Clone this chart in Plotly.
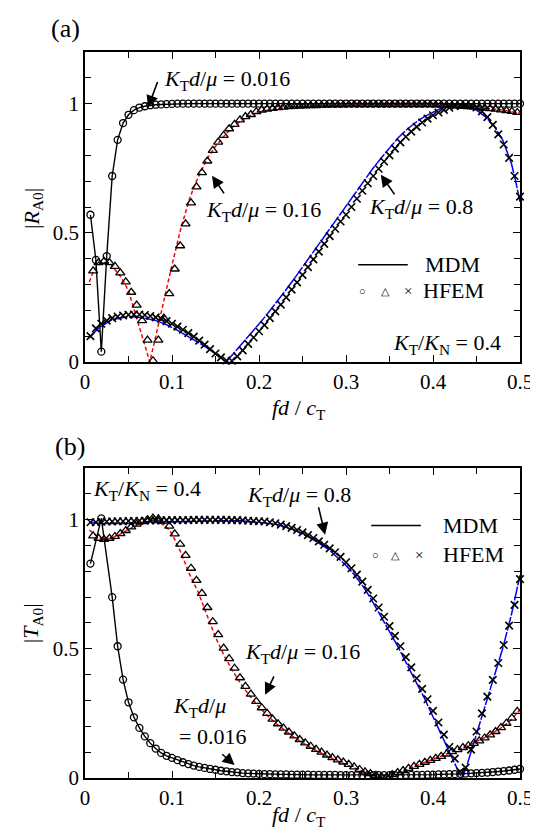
import plotly.graph_objects as go

# ---------------- data ----------------
# HFEM sampling frequencies (fd/cT)
X_CIRC = [round(0.00625 * k, 5) for k in range(1, 81)]
X_CROSS = [round(0.00625 * k, 5) for k in range(1, 81)]
X_TRI = [round(0.009375 + 0.00625 * j, 6) for j in range(79)]

# (a) |R_A0|
a_circ_016 = [0.57, 0.395, 0.04, 0.41, 0.72, 0.86, 0.925, 0.957, 0.975, 0.985,
              0.99, 0.994, 0.996, 0.997, 0.998, 0.999, 1.0, 1.0, 1.0, 1.0,
              1.0, 1.0, 1.0, 1.0, 1.0, 1.0, 1.0, 1.0, 1.0, 1.0,
              1.0, 1.0, 1.0, 1.0, 1.0, 1.0, 1.0, 1.0, 1.0, 1.0,
              1.0, 1.0, 1.0, 1.0, 1.0, 1.0, 1.0, 1.0, 1.0, 1.0,
              1.0, 1.0, 1.0, 1.0, 1.0, 1.0, 1.0, 1.0, 1.0, 1.0,
              1.0, 1.0, 1.0, 1.0, 1.0, 1.0, 1.0, 1.0, 1.0, 1.0,
              1.0, 1.0, 1.0, 1.0, 1.0, 1.0, 1.0, 1.0, 1.0, 1.0]
a_tri_016 = [0.353, 0.385, 0.39, 0.385, 0.37, 0.345, 0.31, 0.27, 0.22, 0.16,
             0.085, 0.005, 0.085, 0.17, 0.265, 0.36, 0.45, 0.535, 0.616, 0.678,
             0.733, 0.778, 0.819, 0.851, 0.877, 0.903, 0.92, 0.937, 0.95, 0.958,
             0.969, 0.975, 0.979, 0.982, 0.985, 0.987, 0.989, 0.99, 0.991, 0.992,
             0.993, 0.993, 0.994, 0.994, 0.995, 0.995, 0.995, 0.996, 0.996, 0.996,
             0.996, 0.996, 0.996, 0.996, 0.996, 0.996, 0.996, 0.996, 0.996, 0.996,
             0.996, 0.996, 0.996, 0.995, 0.995, 0.994, 0.993, 0.992, 0.99, 0.989,
             0.987, 0.985, 0.983, 0.981, 0.979, 0.976, 0.973, 0.97, 0.966]
a_cross_08 = [0.10, 0.13, 0.148, 0.16, 0.17, 0.176, 0.18, 0.183, 0.184, 0.184,
              0.182, 0.178, 0.173, 0.167, 0.158, 0.148, 0.137, 0.125, 0.112, 0.098,
              0.083, 0.067, 0.05, 0.033, 0.018, 0.006, 0.005, 0.022, 0.045, 0.07,
              0.095, 0.119, 0.143, 0.17, 0.196, 0.222, 0.25, 0.28, 0.308, 0.337,
              0.367, 0.397, 0.427, 0.457, 0.487, 0.516, 0.544, 0.57, 0.60, 0.632,
              0.663, 0.692, 0.72, 0.748, 0.776, 0.80, 0.826, 0.85, 0.872, 0.892,
              0.91, 0.927, 0.942, 0.955, 0.966, 0.976, 0.984, 0.99, 0.994, 0.996,
              0.993, 0.985, 0.97, 0.948, 0.918, 0.881, 0.842, 0.79, 0.72, 0.64]

a_red_x = [0.005, 0.01, 0.015, 0.02, 0.025, 0.03, 0.035, 0.04, 0.045, 0.05,
           0.055, 0.06, 0.065, 0.07, 0.0745, 0.08, 0.09, 0.1, 0.11, 0.115,
           0.12, 0.125, 0.13, 0.14, 0.15, 0.16, 0.17, 0.18, 0.19, 0.2,
           0.22, 0.25, 0.3, 0.35, 0.4, 0.42, 0.44, 0.46, 0.48, 0.5]
a_red_y = [0.31, 0.355, 0.375, 0.385, 0.385, 0.378, 0.355, 0.335, 0.308, 0.275,
           0.22, 0.163, 0.107, 0.05, 0.0, 0.08, 0.23, 0.375, 0.515, 0.575,
           0.63, 0.675, 0.715, 0.785, 0.835, 0.875, 0.91, 0.935, 0.955, 0.968,
           0.98, 0.99, 0.995, 0.996, 0.996, 0.995, 0.99, 0.984, 0.976, 0.963]
a_blue_x = [0.005, 0.015, 0.03, 0.045, 0.055, 0.065, 0.08, 0.092, 0.105, 0.115,
            0.128, 0.139, 0.15, 0.162, 0.17, 0.18, 0.19, 0.2, 0.21, 0.22,
            0.23, 0.24, 0.25, 0.26, 0.27, 0.28, 0.29, 0.3, 0.31, 0.32,
            0.33, 0.34, 0.35, 0.36, 0.37, 0.38, 0.39, 0.4, 0.41, 0.42,
            0.43, 0.44, 0.45, 0.46, 0.47, 0.48, 0.49, 0.495, 0.5]
a_blue_y = [0.093, 0.13, 0.162, 0.173, 0.175, 0.172, 0.162, 0.147, 0.125, 0.106,
            0.082, 0.058, 0.032, 0.0, 0.03, 0.068, 0.107, 0.147, 0.188, 0.23,
            0.275, 0.32, 0.367, 0.415, 0.463, 0.51, 0.557, 0.603, 0.65, 0.70,
            0.745, 0.788, 0.83, 0.868, 0.90, 0.927, 0.95, 0.968, 0.983, 0.993,
            0.998, 0.99, 0.975, 0.95, 0.915, 0.86, 0.77, 0.70, 0.62]

# (b) |T_A0|
b_circ_016 = [0.83, None, 1.005, None, 0.70, 0.51, 0.381, 0.293, 0.235, 0.194,
              0.161, 0.135, 0.114, 0.097, 0.086, 0.078, 0.069, 0.061, 0.054, 0.048,
              0.043, 0.039, 0.035, 0.032, 0.028, 0.026, 0.023, 0.022, 0.019, 0.018,
              0.017, 0.016, 0.015, 0.015, 0.014, 0.014, 0.014, 0.013, 0.013, 0.013,
              0.013, 0.012, 0.012, 0.012, 0.012, 0.012, 0.011, 0.011, 0.011, 0.011,
              0.011, 0.011, 0.011, 0.011, 0.011, 0.011, 0.011, 0.011, 0.012, 0.012,
              0.012, 0.012, 0.013, 0.013, 0.014, 0.014, 0.015, 0.015, 0.016, 0.017,
              0.018, 0.019, 0.02, 0.021, 0.023, 0.025, 0.027, 0.029, 0.032, 0.035]
b_tri_016 = [0.937, 0.928, 0.924, 0.928, 0.935, 0.946, 0.958, 0.972, 0.983, 0.993,
             1.0, 1.006, 1.003, 0.994, 0.975, 0.945, 0.905, 0.862, 0.812, 0.765,
             0.715, 0.66, 0.605, 0.555, 0.503, 0.462, 0.425, 0.388, 0.355, 0.325,
             0.297, 0.272, 0.25, 0.228, 0.21, 0.193, 0.178, 0.163, 0.149, 0.136,
             0.123, 0.111, 0.1, 0.089, 0.079, 0.07, 0.062, 0.053, 0.043, 0.033,
             0.024, 0.017, 0.01, 0.005, 0.004, 0.013, 0.021, 0.029, 0.037, 0.045,
             0.053, 0.061, 0.068, 0.076, 0.084, 0.093, 0.102, 0.11, 0.118, 0.125,
             0.134, 0.144, 0.155, 0.167, 0.18, 0.195, 0.212, 0.232, 0.258]
b_cross_08 = [0.99, 0.99, 0.992, 0.993, 0.993, 0.994, 0.994, 0.995, 0.995, 0.996,
              0.996, 0.997, 0.997, 0.997, 0.998, 0.998, 0.998, 0.998, 0.998, 0.999,
              0.999, 0.999, 0.999, 0.999, 0.999, 0.999, 0.998, 0.998, 0.997, 0.996,
              0.995, 0.994, 0.993, 0.99, 0.986, 0.981, 0.975, 0.968, 0.96, 0.951,
              0.94, 0.929, 0.916, 0.903, 0.889, 0.874, 0.856, 0.835, 0.812, 0.787,
              0.76, 0.728, 0.695, 0.66, 0.624, 0.588, 0.55, 0.51, 0.468, 0.428,
              0.386, 0.345, 0.305, 0.26, 0.215, 0.168, 0.12, 0.075, 0.025, 0.04,
              0.11, 0.18, 0.25, 0.315, 0.38, 0.445, 0.515, 0.59, 0.67, 0.77]

b_red_x = [0.005, 0.01, 0.015, 0.02, 0.025, 0.03, 0.04, 0.05, 0.06, 0.07,
           0.08, 0.085, 0.09, 0.095, 0.1, 0.11, 0.12, 0.13, 0.14, 0.15,
           0.16, 0.17, 0.18, 0.19, 0.2, 0.21, 0.22, 0.24, 0.26, 0.28,
           0.3, 0.32, 0.335, 0.343, 0.36, 0.38, 0.4, 0.42, 0.44, 0.46,
           0.48, 0.49, 0.5]
b_red_y = [0.96, 0.945, 0.932, 0.926, 0.925, 0.928, 0.943, 0.962, 0.979, 0.99,
           0.993, 0.99, 0.98, 0.966, 0.945, 0.875, 0.79, 0.72, 0.632, 0.545,
           0.473, 0.413, 0.36, 0.315, 0.275, 0.24, 0.21, 0.158, 0.116, 0.082,
           0.052, 0.024, 0.007, 0.0, 0.02, 0.046, 0.072, 0.098, 0.125, 0.157,
           0.197, 0.225, 0.265]
b_blue_x = [0.005, 0.02, 0.05, 0.1, 0.15, 0.18, 0.2, 0.22, 0.24, 0.26,
            0.28, 0.3, 0.31, 0.32, 0.33, 0.34, 0.35, 0.36, 0.37, 0.38,
            0.39, 0.4, 0.41, 0.42, 0.43, 0.434, 0.44, 0.45, 0.46, 0.47,
            0.48, 0.49, 0.5]
b_blue_y = [0.99, 0.985, 0.985, 0.99, 0.996, 0.996, 0.99, 0.982, 0.961, 0.928,
            0.885, 0.823, 0.785, 0.74, 0.686, 0.628, 0.57, 0.507, 0.44, 0.375,
            0.31, 0.237, 0.166, 0.093, 0.02, 0.0, 0.06, 0.17, 0.28, 0.385,
            0.5, 0.63, 0.785]

X_TICKS = [0, 0.1, 0.2, 0.3, 0.4, 0.5]
Y_TICKS = [0, 0.5, 1]

# ---------------- styling ----------------
FONT = "Liberation Serif"
RED = "#ff0000"
BLUE = "#0000ff"

fig = go.Figure()


def add_panel(xa, ya, red_x, red_y, blue_x, blue_y, circ, tri, cross):
    fig.add_trace(go.Scatter(x=red_x, y=red_y, mode="lines", xaxis=xa, yaxis=ya,
                             line=dict(color=RED, width=1.5, dash="4px,2.5px"),
                             showlegend=False, hoverinfo="skip"))
    fig.add_trace(go.Scatter(x=blue_x, y=blue_y, mode="lines", xaxis=xa, yaxis=ya,
                             line=dict(color=BLUE, width=1.5, dash="14px,1.5px"),
                             showlegend=False, hoverinfo="skip"))
    fig.add_trace(go.Scatter(x=X_CIRC, y=circ, mode="lines+markers", xaxis=xa, yaxis=ya,
                             connectgaps=True, cliponaxis=False,
                             line=dict(color="black", width=1.4),
                             marker=dict(symbol="circle-open", size=7, color="black",
                                         line=dict(width=1.3, color="black")),
                             showlegend=False))
    fig.add_trace(go.Scatter(x=X_TRI, y=tri, mode="markers", xaxis=xa, yaxis=ya,
                             cliponaxis=False,
                             marker=dict(symbol="triangle-up-open", size=8, color="black",
                                         line=dict(width=1.3, color="black")),
                             showlegend=False))
    fig.add_trace(go.Scatter(x=X_CROSS, y=cross, mode="markers", xaxis=xa, yaxis=ya,
                             cliponaxis=False,
                             marker=dict(symbol="x-thin-open", size=7.5, color="black",
                                         line=dict(width=1.6, color="black")),
                             showlegend=False))


add_panel("x", "y", a_red_x, a_red_y, a_blue_x, a_blue_y, a_circ_016, a_tri_016, a_cross_08)
add_panel("x2", "y2", b_red_x, b_red_y, b_blue_x, b_blue_y, b_circ_016, b_tri_016, b_cross_08)

axis_common = dict(showline=True, linecolor="black", linewidth=1.5, mirror="ticks",
                   ticks="inside", ticklen=7, tickwidth=1.3, tickcolor="black",
                   showgrid=False, zeroline=False,
                   tickfont=dict(family=FONT, size=21, color="black"))
xaxis_common = dict(axis_common, range=[0, 0.5], tickvals=X_TICKS,
                    ticktext=[("%g" % v) for v in X_TICKS],
                    minor=dict(dtick=0.05, tick0=0, ticks="inside", ticklen=6,
                               tickwidth=1.3, tickcolor="black", showgrid=False))
yaxis_common = dict(axis_common, range=[0, 1.2], tickvals=Y_TICKS,
                    ticktext=[("%g" % v) for v in Y_TICKS],
                    minor=dict(dtick=0.1, tick0=0, ticks="inside", ticklen=6,
                               tickwidth=1.3, tickcolor="black", showgrid=False))

fig.update_layout(
    width=538, height=830,
    margin=dict(l=77, r=26, t=44, b=60),
    paper_bgcolor="white", plot_bgcolor="white",
    font=dict(family=FONT, size=22, color="black"),
    xaxis=dict(xaxis_common, anchor="y", domain=[0, 1]),
    yaxis=dict(yaxis_common, anchor="x", domain=[0.573, 1]),
    xaxis2=dict(xaxis_common, anchor="y2", domain=[0, 1]),
    yaxis2=dict(yaxis_common, anchor="x2", domain=[0, 0.427]),
    showlegend=False,
)

ann = []
shapes = []


def txt(x, y, text, xr, yr, size=22, xanchor="left", **kw):
    ann.append(dict(x=x, y=y, xref=xr, yref=yr, text=text, showarrow=False,
                    xanchor=xanchor, yanchor="middle",
                    font=dict(family=FONT, size=size, color="black"), **kw))


def arrow(tx, ty, hx, hy, xr, yr):
    ann.append(dict(x=hx, y=hy, ax=tx, ay=ty, xref=xr, yref=yr, axref=xr, ayref=yr,
                    text="", showarrow=True, arrowhead=2, arrowsize=1.5,
                    arrowwidth=1.6, arrowcolor="black"))


KTD = "<i>K</i><sub>T</sub><i>d</i>/<i>μ</i>"
KTKN = "<i>K</i><sub>T</sub>/<i>K</i><sub>N</sub> = 0.4"
XT = "<i>fd</i> / <i>c</i><sub>T</sub>"

# panel labels
txt(-0.044, 1.033, "(a)", "paper", "paper", size=26, xanchor="center")
txt(-0.034, 0.457, "(b)", "paper", "paper", size=26, xanchor="center")
# axis titles
txt(0.492, 0.508, XT, "paper", "paper", xanchor="center")
txt(0.492, -0.052, XT, "paper", "paper", xanchor="center")
txt(-0.12, 0.785, "|<i>R</i><sub>A0</sub>|", "paper", "paper", xanchor="center", textangle=-90)
txt(-0.12, 0.213, "|<i>T</i><sub>A0</sub>|", "paper", "paper", xanchor="center", textangle=-90)

# panel (a)
txt(0.088, 1.093, KTD + " = 0.016", "x", "y")
arrow(0.084, 1.09, 0.0725, 0.985, "x", "y")
txt(0.137, 0.585, KTD + " = 0.16", "x", "y")
arrow(0.161, 0.647, 0.146, 0.721, "x", "y")
txt(0.324, 0.597, KTD + " = 0.8", "x", "y")
arrow(0.357, 0.643, 0.340, 0.725, "x", "y")
txt(0.48, 0.07, KTKN, "x", "y", xanchor="right")
shapes.append(dict(type="line", xref="x", yref="y", x0=0.314, x1=0.371, y0=0.376, y1=0.376,
                   line=dict(color="black", width=1.5)))
txt(0.389, 0.376, "MDM", "x", "y")
txt(0.386, 0.275, "HFEM", "x", "y")
txt(0.319, 0.275, "○", "x", "y", size=11, xanchor="center")
txt(0.345, 0.275, "△", "x", "y", size=11, xanchor="center")
txt(0.371, 0.275, "×", "x", "y", size=15, xanchor="center")

# panel (b)
txt(0.007, 1.116, KTKN, "x2", "y2")
txt(0.184, 1.093, KTD + " = 0.8", "x2", "y2")
arrow(0.268, 1.054, 0.276, 0.942, "x2", "y2")
shapes.append(dict(type="line", xref="x2", yref="y2", x0=0.329, x1=0.386, y0=0.977, y1=0.977,
                   line=dict(color="black", width=1.5)))
txt(0.409, 0.977, "MDM", "x2", "y2")
txt(0.409, 0.864, "HFEM", "x2", "y2")
txt(0.334, 0.864, "○", "x2", "y2", size=11, xanchor="center")
txt(0.357, 0.864, "△", "x2", "y2", size=11, xanchor="center")
txt(0.384, 0.864, "×", "x2", "y2", size=15, xanchor="center")
txt(0.182, 0.484, KTD + " = 0.16", "x2", "y2")
arrow(0.218, 0.399, 0.207, 0.322, "x2", "y2")
txt(0.132, 0.275, KTD, "x2", "y2", xanchor="center")
txt(0.147, 0.16, "= 0.016", "x2", "y2", xanchor="center")
arrow(0.156, 0.097, 0.172, 0.05, "x2", "y2")

fig.update_layout(annotations=ann, shapes=shapes)

fig.write_html("out.html")
